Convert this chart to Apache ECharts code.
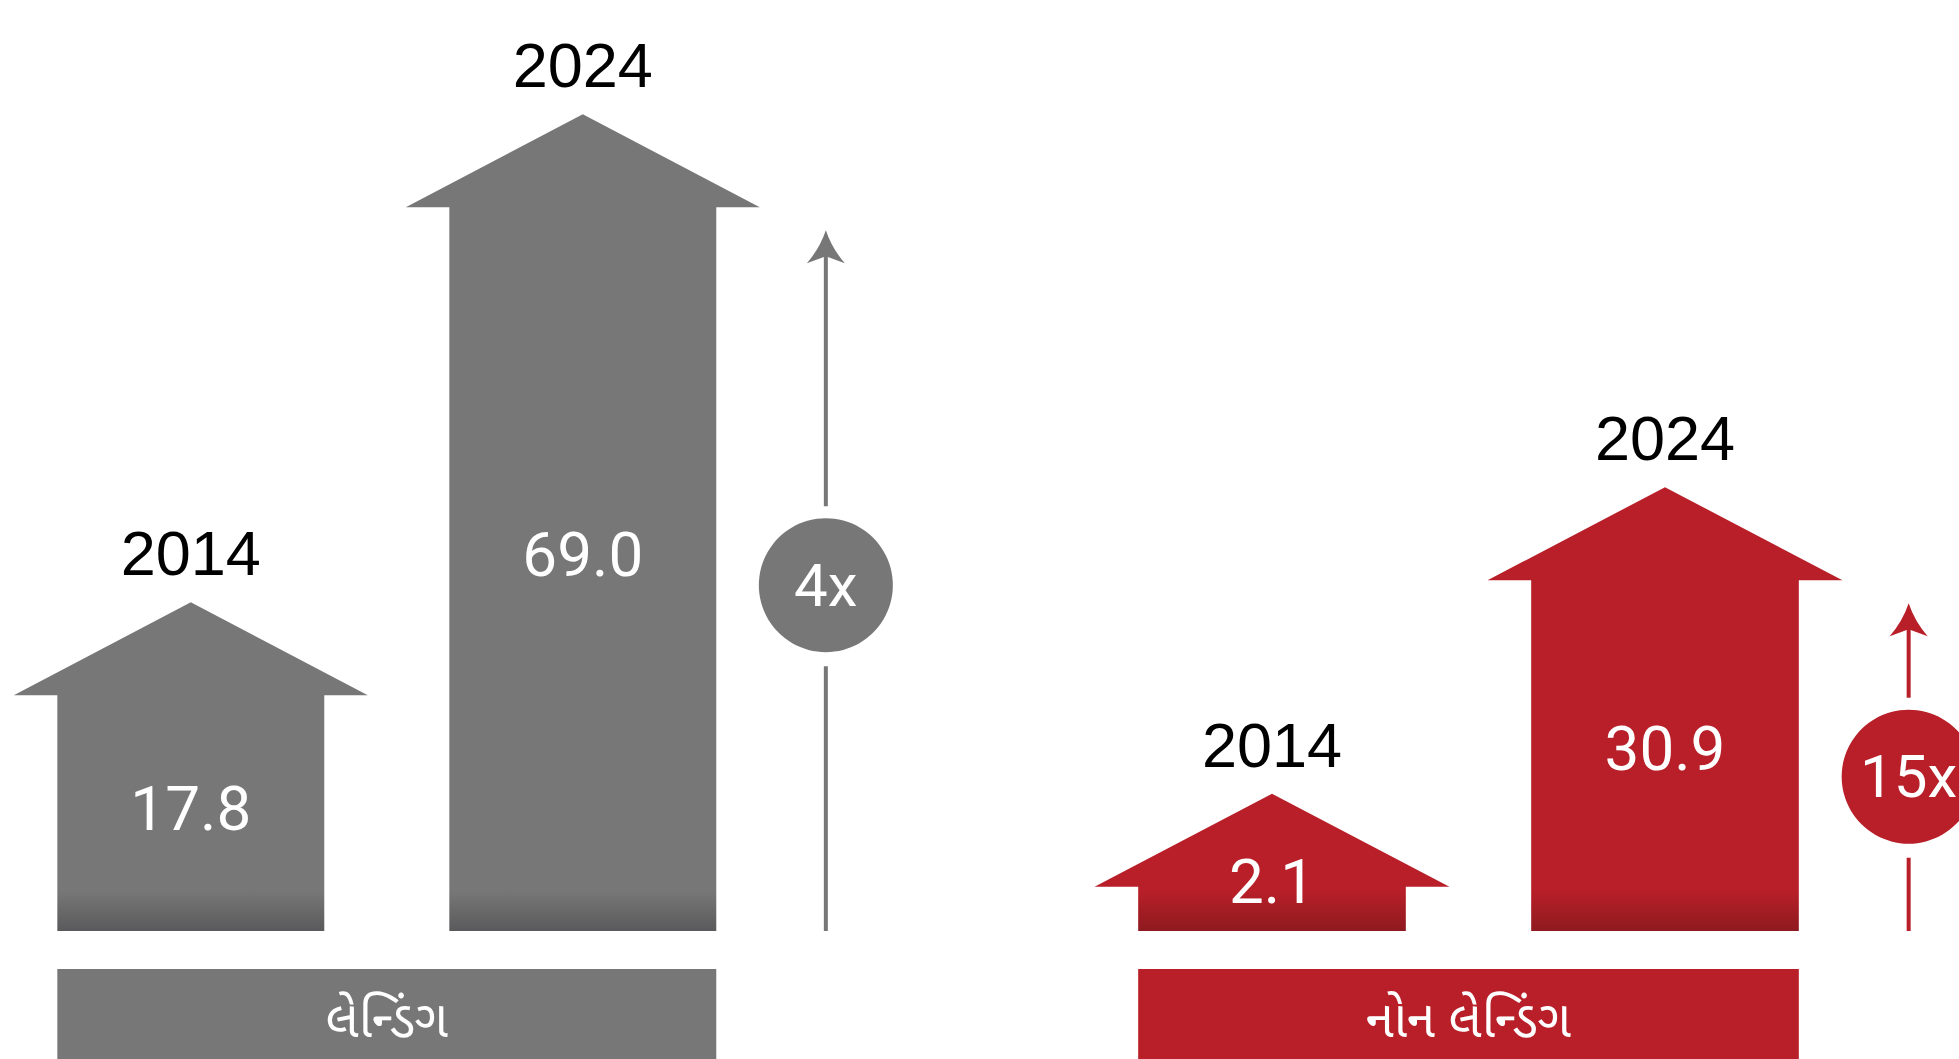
<!DOCTYPE html>
<html><head><meta charset="utf-8">
<script src="https://cdn.jsdelivr.net/npm/echarts@6/dist/echarts.min.js"></script>
<style>html,body{margin:0;padding:0;background:#fff}#c{width:1959px;height:1059px}</style>
</head><body><div id="c"></div>
<script>
// ---- data ----
const years = ['2014', '2024'];
const lendingValues = [17.8, 69.0];
const nonLendingValues = [2.1, 30.9];
const groupNames = ['લેન્ડિંગ', 'નોન લેન્ડિંગ'];
const multipliers = ['4x', '15x'];

// ---- styling ----
const palette = [
  { base: '#777777', dark: '#5a5a5c' },
  { base: '#b81f28', dark: '#8e1a1f' }
];
const yearFont = { fontFamily: 'Liberation Sans, Arial, sans-serif', fontSize: 63, fill: '#000' };
const valueFont = { fontFamily: 'Roboto, Liberation Sans, sans-serif', fontWeight: 400, fontSize: 62, fill: '#fff' };

function arrowRender(g) {
  const col = palette[g];
  return function (params, api) {
    const xi = api.value(0), v = api.value(1);
    const apex = api.coord([xi, v]);
    const unit = api.coord([xi + 1, v])[0] - apex[0];
    const cs = params.coordSys;
    const bottom = cs.y + cs.height;
    const cx = apex[0];
    const hh = 93, hw = unit * 0.4515, sw = unit * 0.3405;
    const hb = apex[1] + hh;
    const fill = { type: 'linear', global: true, x: 0, y: bottom - 40, x2: 0, y2: bottom,
      colorStops: [{ offset: 0, color: col.base }, { offset: 1, color: col.dark }] };
    let ly = hb + 0.48 * (bottom - hb);
    ly = Math.min(ly, bottom - 50);
    return {
      type: 'group',
      children: [
        { type: 'polygon', shape: { points: [[cx, apex[1]], [cx + hw, hb], [cx + sw, hb], [cx + sw, bottom], [cx - sw, bottom], [cx - sw, hb], [cx - hw, hb]] }, style: { fill: fill } },
        { type: 'text', x: cx, y: apex[1] - 49, style: Object.assign({ text: years[xi], align: 'center', verticalAlign: 'middle' }, yearFont) },
        { type: 'text', x: cx, y: ly, style: Object.assign({ text: v.toFixed(1), align: 'center', verticalAlign: 'middle' }, valueFont) }
      ]
    };
  };
}

function groupRender(g) {
  const col = palette[g];
  return function (params, api) {
    const v0 = api.value(1), v1 = api.value(2);
    const p0 = api.coord([0, v0]), p1 = api.coord([1, v1]);
    const unit = p1[0] - p0[0];
    const cs = params.coordSys;
    const bottom = cs.y + cs.height;
    const sw = unit * 0.3405;
    const barTop = bottom + 38;
    const bx0 = p0[0] - sw, bx1 = p1[0] + sw;
    const mx = p1[0] + unit * 0.62;
    const tip = p1[1] + 116;
    const cy = p0[1] - 17;
    const r = 67;
    const headPath = 'M' + mx + ' ' + tip +
      ' Q' + (mx - 6) + ' ' + (tip + 18) + ' ' + (mx - 19) + ' ' + (tip + 33) +
      ' L' + mx + ' ' + (tip + 26) +
      ' L' + (mx + 19) + ' ' + (tip + 33) +
      ' Q' + (mx + 6) + ' ' + (tip + 18) + ' ' + mx + ' ' + tip + ' Z';
    return {
      type: 'group',
      children: [
        { type: 'rect', shape: { x: bx0, y: barTop, width: bx1 - bx0, height: 140 }, style: { fill: col.base } },
        { type: 'text', x: (bx0 + bx1) / 2, y: barTop + 55, style: { text: groupNames[g], align: 'center', verticalAlign: 'middle', fontSize: 51, fontFamily: 'Noto Sans Gujarati, Lohit Gujarati, Noto Sans, sans-serif', fill: '#fff' } },
        { type: 'line', shape: { x1: mx, y1: tip + 24, x2: mx, y2: cy - r - 12 }, style: { stroke: col.base, lineWidth: 4 } },
        { type: 'line', shape: { x1: mx, y1: cy + r + 14, x2: mx, y2: bottom }, style: { stroke: col.base, lineWidth: 4 } },
        { type: 'path', shape: { pathData: headPath }, style: { fill: col.base } },
        { type: 'circle', shape: { cx: mx, cy: cy, r: r }, style: { fill: col.base } },
        { type: 'text', x: mx, y: cy, style: Object.assign({}, valueFont, { text: multipliers[g], align: 'center', verticalAlign: 'middle', fontSize: 60 }) }
      ]
    };
  };
}

const groups = [lendingValues, nonLendingValues];
const option = {
  animation: false,
  backgroundColor: '#fff',
  grid: [
    { left: 34, width: 784, top: 9.4, bottom: 128 },
    { left: 1114.8, width: 786, top: 9.4, bottom: 128 }
  ],
  xAxis: [
    { type: 'value', gridIndex: 0, min: -0.4, max: 1.6, show: false },
    { type: 'value', gridIndex: 1, min: -0.4, max: 1.6, show: false }
  ],
  yAxis: [
    { type: 'value', gridIndex: 0, min: -16.7, max: 80, show: false },
    { type: 'value', gridIndex: 1, min: -10.8, max: 75.8, show: false }
  ],
  series: []
};
groups.forEach(function (vals, g) {
  option.series.push({
    type: 'custom', xAxisIndex: g, yAxisIndex: g, clip: false,
    renderItem: arrowRender(g),
    encode: { x: 0, y: 1 },
    data: vals.map(function (v, i) { return [i, v]; })
  });
  option.series.push({
    type: 'custom', xAxisIndex: g, yAxisIndex: g, clip: false,
    renderItem: groupRender(g),
    encode: { x: 0, y: [1, 2] },
    data: [[0, vals[0], vals[1]]]
  });
});
const chart = echarts.init(document.getElementById('c'), null, { renderer: 'svg', width: 1959, height: 1059 });
chart.setOption(option);
</script>
</body></html>
